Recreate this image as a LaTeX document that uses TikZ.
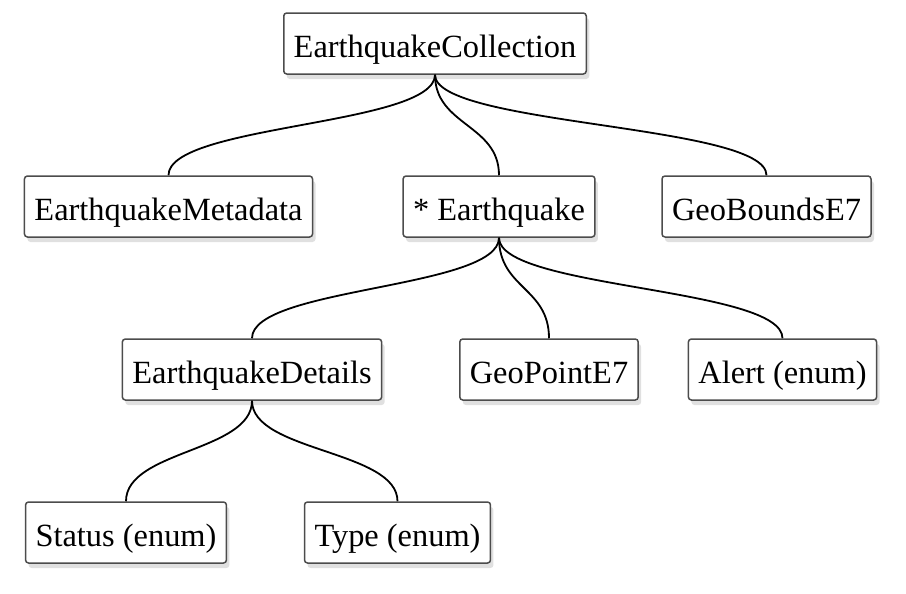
\documentclass[tikz,border=0pt]{standalone}
\usepackage{fontspec}
\setmainfont{Liberation Serif}
\usetikzlibrary{shadows}

\tikzset{
  classbox/.style={draw=black!70,line width=0.75pt,rounded corners=1.5pt,fill=white,
    inner xsep=5pt,inner ysep=2pt,text height=20pt,text depth=6.5pt,
    font=\fontsize{16.2}{19}\selectfont,
    drop shadow={shadow xshift=1.5pt,shadow yshift=-2.5pt,opacity=0.12,fill=black}},
  link/.style={line width=0.9pt,black}
}

\begin{document}
\begin{tikzpicture}[x=0.5pt,y=-0.5pt]
\useasboundingbox (0,0) rectangle (906,594);
% levels
\node[classbox] (coll) at (435,43.5) {EarthquakeCollection};
\node[classbox] (meta) at (168.5,206.5) {EarthquakeMetadata};
\node[classbox] (quake) at (499,206.5) {* Earthquake};
\node[classbox] (bounds) at (766.5,206.5) {GeoBoundsE7};
\node[classbox] (details) at (252,369.5) {EarthquakeDetails};
\node[classbox] (point) at (549,369.5) {GeoPointE7};
\node[classbox] (alert) at (782.5,369.5) {Alert (enum)};
\node[classbox] (status) at (126,532.5) {Status (enum)};
\node[classbox] (type) at (397.5,532.5) {Type (enum)};
% links
\draw[link] (coll.south) .. controls +(0,-25.5pt) and +(0,25.5pt) .. (meta.north);
\draw[link] (coll.south) .. controls +(0,-25.5pt) and +(0,25.5pt) .. (quake.north);
\draw[link] (coll.south) .. controls +(0,-25.5pt) and +(0,25.5pt) .. (bounds.north);
\draw[link] (quake.south) .. controls +(0,-25.5pt) and +(0,25.5pt) .. (details.north);
\draw[link] (quake.south) .. controls +(0,-25.5pt) and +(0,25.5pt) .. (point.north);
\draw[link] (quake.south) .. controls +(0,-25.5pt) and +(0,25.5pt) .. (alert.north);
\draw[link] (details.south) .. controls +(0,-25.5pt) and +(0,25.5pt) .. (status.north);
\draw[link] (details.south) .. controls +(0,-25.5pt) and +(0,25.5pt) .. (type.north);
\end{tikzpicture}
\end{document}
